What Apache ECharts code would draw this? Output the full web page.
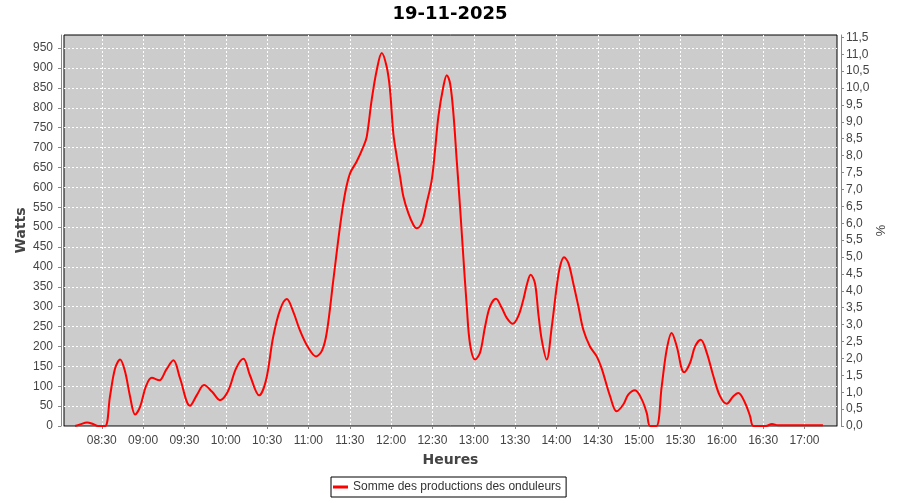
<!DOCTYPE html>
<html>
<head>
<meta charset="utf-8">
<script src="https://cdn.jsdelivr.net/npm/echarts@6/dist/echarts.min.js"></script>
<style>html,body{margin:0;padding:0;background:#fff}#c{width:900px;height:500px}</style>
</head>
<body>
<div id="c"></div>
<script>
// Time in minutes since midnight
const minutes = [490.6,494.3,499.3,503.7,507.3,512.4,516,519.7,523.3,526.9,530.5,534.2,537.8,542.1,546.3,551.8,556.7,562,566.8,574.1,579.2,584.2,590.1,595.8,601.7,607.5,612.8,617.6,624.2,629.2,634.3,639.4,644.3,648.8,653.9,659.7,665.5,669.9,673.3,678.1,682.9,686.6,690.2,695,699.8,702.3,705.9,709.6,713.2,716.8,719.2,721.6,724.1,726.5,728.9,732.5,736.1,738.6,742.2,745.8,749.5,751.9,754.3,757.9,760.4,762.8,765.2,767.6,770,772.4,774.9,777.3,780.9,784.5,788.2,791.8,796.1,800.3,803.9,808.3,812.3,816,818.8,821.3,824.4,826.8,829.3,832.9,836.6,840.2,842.6,845.5,848.6,852.2,855.9,859.5,864.3,869.2,872.8,878.9,883.7,888.5,892.1,897,901.9,905.5,908,912.5,916.4,920,923.6,927.3,932.6,937,940.6,944.7,949.1,953.9,958.7,963.5,968.4,972,976.9,980.5,983,992,996.4,1000.8,1033.4];
const watts = [0,4,9,5,0,0,75,145,167,137,75,29,48,100,121,115,141,165,120,51,79,103,86,65,88,145,169,127,77,115,222,292,319,289,240,198,175,190,235,368,501,585,635,665,702,727,820,895,938,903,845,736,677,627,577,535,506,497,510,560,619,694,778,853,882,861,786,669,552,426,301,205,167,184,250,301,320,297,272,257,276,318,359,380,359,284,217,167,250,351,401,424,410,359,301,242,200,175,145,75,37,54,79,90,67,33,0,0,100,192,234,200,135,159,200,217,184,125,75,56,75,83,58,25,0,0,5,2,2];

const timeTicks = ['08:30','09:00','09:30','10:00','10:30','11:00','11:30','12:00','12:30','13:00','13:30','14:00','14:30','15:00','15:30','16:00','16:30','17:00'];
const wattTicks = [0,50,100,150,200,250,300,350,400,450,500,550,600,650,700,750,800,850,900,950];
const pctTicks = ['0,0','0,5','1,0','1,5','2,0','2,5','3,0','3,5','4,0','4,5','5,0','5,5','6,0','6,5','7,0','7,5','8,0','8,5','9,0','9,5','10,0','10,5','11,0','11,5'];

const toMin = s => { const p = s.split(':'); return (+p[0]) * 60 + (+p[1]); };
const timeTickVals = timeTicks.map(toMin);
const pctTickVals = pctTicks.map(s => parseFloat(s.replace(',', '.')));
const pad2 = n => (n < 10 ? '0' : '') + n;
const fmtTime = v => pad2(Math.floor(v / 60)) + ':' + pad2(Math.round(v % 60));

const seriesData = minutes.map((m, i) => [m, watts[i]]);

const lblFont = { fontFamily: 'Liberation Sans', fontSize: 12, color: '#444' };
const nameFont = { fontFamily: 'DejaVu Sans', fontWeight: 'bold', fontSize: 14, color: '#444' };
const axisGray = '#888';

const chart = echarts.init(document.getElementById('c'), null, { renderer: 'canvas' });
chart.setOption({
  animation: false,
  backgroundColor: '#fff',
  title: {
    text: '19-11-2025', left: 'center', top: 5, padding: 0,
    textStyle: { fontFamily: 'DejaVu Sans', fontWeight: 'bold', fontSize: 18, color: '#000' }
  },
  grid: {
    left: 64, right: 63, top: 35, bottom: 74,
    show: true, backgroundColor: '#cccccc', borderColor: '#000', borderWidth: 1
  },
  legend: {
    left: 331, top: 477,
    padding: [4, 5, 4, 2],
    borderColor: '#000', borderWidth: 1,
    icon: 'rect', itemWidth: 15, itemHeight: 3,
    textStyle: { fontFamily: 'Liberation Sans', fontSize: 12, color: '#333' },
    data: ['Somme des productions des onduleurs']
  },
  xAxis: {
    type: 'value', min: 482.6, max: 1043.6, offset: 3,
    name: 'Heures', nameLocation: 'middle', nameGap: 24, nameTextStyle: nameFont,
    axisLine: { show: true, lineStyle: { color: axisGray } },
    axisTick: { show: true, length: 3, customValues: timeTickVals, lineStyle: { color: axisGray } },
    axisLabel: Object.assign({ customValues: timeTickVals, margin: 6, formatter: v => fmtTime(v) }, lblFont),
    splitLine: { show: true, lineStyle: { color: '#fff', type: [2, 2], width: 1 } }
  },
  yAxis: [
    {
      type: 'value', min: 0, max: 983, position: 'left', offset: 3,
      name: 'Watts', nameLocation: 'middle', nameGap: 33, nameRotate: 90, nameMoveOverlap: false,
      nameTextStyle: nameFont,
      axisLine: { show: true, lineStyle: { color: axisGray } },
      axisTick: { show: true, length: 3, customValues: wattTicks, lineStyle: { color: axisGray } },
      axisLabel: Object.assign({ customValues: wattTicks, margin: 8 }, lblFont),
      splitLine: { show: true, lineStyle: { color: '#fff', type: [2, 2], width: 1 } }
    },
    {
      type: 'value', min: 0, max: 11.57, position: 'right', offset: 4,
      name: '%', nameLocation: 'middle', nameGap: 32, nameRotate: -90, nameMoveOverlap: false,
      nameTextStyle: { fontFamily: 'Liberation Sans', fontSize: 13, color: '#444' },
      axisLine: { show: true, lineStyle: { color: axisGray } },
      axisTick: { show: true, length: 3, customValues: pctTickVals, lineStyle: { color: axisGray } },
      axisLabel: Object.assign({ customValues: pctTickVals, margin: 5, formatter: v => v.toFixed(1).replace('.', ',') }, lblFont),
      splitLine: { show: false }
    }
  ],
  series: [{
    name: 'Somme des productions des onduleurs',
    type: 'line', yAxisIndex: 0,
    data: seriesData,
    smooth: 0.35,
    showSymbol: false,
    color: '#ff0000',
    lineStyle: { color: '#ff0000', width: 2 }
  }]
});
</script>
</body>
</html>
